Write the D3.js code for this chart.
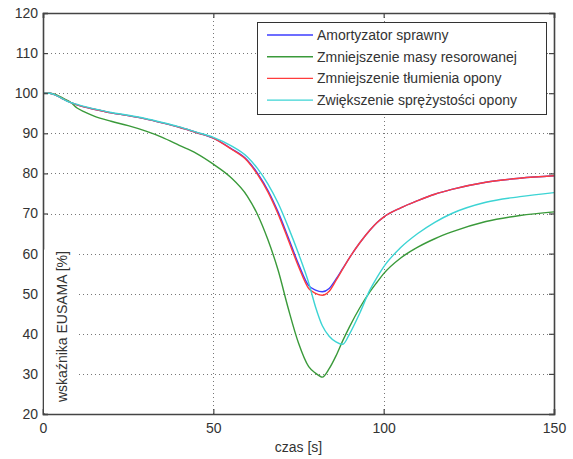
<!DOCTYPE html>
<html>
<head>
<meta charset="utf-8">
<script src="https://cdn.jsdelivr.net/npm/d3@7"></script>
<style>
  html, body { margin: 0; padding: 0; background: #fff; }
  svg { display: block; }
  text { font-family: "Liberation Sans", Arial, sans-serif; fill: #333; }
</style>
</head>
<body>
<script>
// Time samples [s]
const czas = [0, 2, 4, 6, 8, 10, 12, 15, 20, 25, 30, 35, 40, 45, 50, 55, 60, 63, 66, 69, 72, 75, 78, 80, 82, 84, 86, 88, 90, 93, 96, 98, 100, 105, 110, 115, 120, 130, 140, 150];

// EUSAMA index [%] for each variant
const amortyzatorSprawny = [100, 100, 99.4, 98.5, 97.7, 97.1, 96.6, 96.0, 95.1, 94.4, 93.6, 92.6, 91.5, 90.2, 88.8, 86.3, 83.3, 80.0, 75.8, 70.4, 64.0, 57.4, 52.0, 50.9, 50.5, 51.3, 53.6, 56.3, 59.0, 62.7, 65.9, 67.7, 69.1, 71.4, 73.2, 74.8, 76.0, 77.8, 78.8, 79.4];
const zmniejszenieMasy = [100, 100, 99.6, 98.7, 97.8, 96.3, 95.4, 94.3, 93.0, 91.9, 90.6, 89.0, 87.0, 85.0, 82.3, 79.1, 74.3, 69.7, 63.5, 55.9, 46.3, 37.7, 31.8, 30.2, 29.2, 31.3, 34.5, 38.3, 41.8, 46.5, 50.5, 52.8, 55.0, 58.9, 61.6, 63.7, 65.4, 68.0, 69.5, 70.4];
const zmniejszenieTlumienia = [100, 100, 99.4, 98.5, 97.7, 97.1, 96.6, 96.0, 95.1, 94.4, 93.6, 92.6, 91.5, 90.2, 88.8, 86.2, 83.1, 79.7, 75.4, 69.9, 63.4, 56.8, 51.3, 50.1, 49.6, 50.6, 53.3, 56.2, 59.0, 62.7, 65.9, 67.7, 69.1, 71.4, 73.2, 74.8, 76.0, 77.8, 78.8, 79.4];
const zwiekszenieSprezystosci = [100, 100, 99.4, 98.5, 97.7, 97.2, 96.7, 96.1, 95.2, 94.5, 93.7, 92.7, 91.6, 90.3, 89.0, 87.0, 84.1, 81.2, 77.4, 72.6, 66.6, 60.0, 52.7, 46.7, 42.0, 39.4, 38.0, 37.4, 40.0, 45.2, 51.0, 54.0, 56.7, 61.5, 65.0, 67.8, 70.0, 72.8, 74.2, 75.2];

const seriesNames = ["Amortyzator sprawny", "Zmniejszenie masy resorowanej", "Zmniejszenie tłumienia opony", "Zwiększenie sprężystości opony"];
const seriesValues = [amortyzatorSprawny, zmniejszenieMasy, zmniejszenieTlumienia, zwiekszenieSprezystosci];
const seriesColors = ["#3c3cff", "#3a9a3a", "#ff3c3c", "#3cd4d4"];

const xTicks = [0, 50, 100, 150];
const yTicks = [20, 30, 40, 50, 60, 70, 80, 90, 100, 110, 120];

const W = 573, H = 459;
const margin = { left: 43, top: 13, right: 19, bottom: 45 };
const pw = W - margin.left - margin.right;
const ph = H - margin.top - margin.bottom;

const svg = d3.select("body").append("svg").attr("width", W).attr("height", H);
const g = svg.append("g").attr("transform", `translate(${margin.left},${margin.top})`);

const x = d3.scaleLinear().domain([0, 150]).range([0, pw]);
const y = d3.scaleLinear().domain([20, 120]).range([ph, 0]);

// dotted grid
const grid = g.append("g").attr("stroke", "#777").attr("stroke-width", 1).attr("stroke-dasharray", "1,3");
grid.selectAll("line.gx").data(xTicks.slice(1, -1)).join("line")
  .attr("x1", d => Math.round(x(d)) + 0.5).attr("x2", d => Math.round(x(d)) + 0.5)
  .attr("y1", 0).attr("y2", ph);
grid.selectAll("line.gy").data(yTicks.slice(1, -1)).join("line")
  .attr("x1", 0).attr("x2", pw)
  .attr("y1", d => Math.round(y(d)) + 0.5).attr("y2", d => Math.round(y(d)) + 0.5);

// curves
const line = d3.line().x((d, i) => x(czas[i])).y(d => y(d)).curve(d3.curveMonotoneX);
seriesValues.forEach((vals, k) => {
  g.append("path").datum(vals)
    .attr("fill", "none").attr("stroke", seriesColors[k]).attr("stroke-width", 1.4)
    .attr("stroke-linejoin", "round").attr("d", line);
});

// axes with inward ticks on all sides
const tickFmt = d3.format("d");
const axB = g.append("g").attr("transform", `translate(0,${ph})`)
  .call(d3.axisBottom(x).tickValues(xTicks).tickSize(-5).tickPadding(9).tickFormat(tickFmt));
const axL = g.append("g")
  .call(d3.axisLeft(y).tickValues(yTicks).tickSize(-5).tickPadding(5).tickFormat(tickFmt));
const axT = g.append("g")
  .call(d3.axisTop(x).tickValues(xTicks).tickSize(-5).tickFormat(""));
const axR = g.append("g").attr("transform", `translate(${pw},0)`)
  .call(d3.axisRight(y).tickValues(yTicks).tickSize(-5).tickFormat(""));
[axB, axL, axT, axR].forEach(a => {
  a.select(".domain").attr("stroke", "#444").attr("stroke-width", 1.6);
  a.selectAll(".tick line").attr("stroke", "#444").attr("stroke-width", 1.2);
  a.selectAll("text").attr("font-size", 14).attr("fill", "#333")
    .attr("font-family", "'Liberation Sans', Arial, sans-serif");
});

// y-axis title on a white panel inside the frame
g.append("rect").attr("x", 1).attr("y", y(61)).attr("width", 34).attr("height", ph - y(61) - 1).attr("fill", "#fff");
g.append("text")
  .attr("transform", `translate(24,${ph - 12}) rotate(-90)`)
  .attr("font-size", 14).attr("text-anchor", "start")
  .text("wskaźnika EUSAMA [%]");

// x-axis title
svg.append("text").attr("x", margin.left + pw / 2).attr("y", 452)
  .attr("text-anchor", "middle").attr("font-size", 14).text("czas [s]");

// legend
const lg = svg.append("g");
lg.append("rect").attr("x", 257.5).attr("y", 22.5).attr("width", 289).attr("height", 92)
  .attr("fill", "#fff").attr("stroke", "#333").attr("stroke-width", 1);
seriesNames.forEach((name, k) => {
  const cy = 35 + k * 21.7;
  lg.append("line").attr("x1", 267).attr("x2", 313).attr("y1", cy).attr("y2", cy)
    .attr("stroke", seriesColors[k]).attr("stroke-width", 1.4);
  lg.append("text").attr("x", 317).attr("y", cy + 5).attr("font-size", 14).text(name);
});
</script>
</body>
</html>
